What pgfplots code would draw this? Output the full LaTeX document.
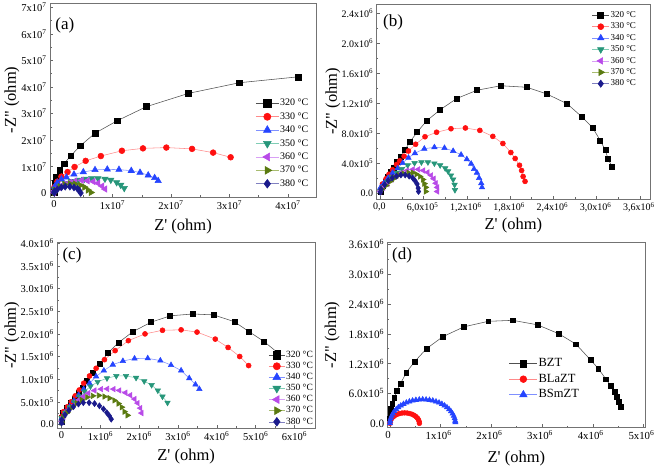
\documentclass[border=0pt]{standalone}
\usepackage{fontspec}
\setmainfont{Liberation Serif}[Ligatures=TeXOff]
\usepackage{pgfplots}
\pgfplotsset{compat=1.18}
\definecolor{m320}{HTML}{000000}\definecolor{l320}{HTML}{505050}
\definecolor{m330}{HTML}{FF1010}\definecolor{l330}{HTML}{FF8A8A}
\definecolor{m340}{HTML}{2545FF}\definecolor{l340}{HTML}{7F90FF}
\definecolor{m350}{HTML}{27967A}\definecolor{l350}{HTML}{80CDB5}
\definecolor{m360}{HTML}{B84AE8}\definecolor{l360}{HTML}{D9A0F5}
\definecolor{m370}{HTML}{5A7A10}\definecolor{l370}{HTML}{A8BC70}
\definecolor{m380}{HTML}{1A1A8C}\definecolor{l380}{HTML}{8080C0}
\pgfplotsset{
 panel/.style={scale only axis, anchor=north west,
   axis line style={black!55, line width=0.6pt},
   tick align=inside, tick pos=left, major tick length=3pt, minor tick length=1.6pt,
   every tick/.style={black!60, line width=0.5pt},
   minor x tick num=1, minor y tick num=1,
   legend cell align=left,
   label style={font=\fontsize{16.5}{17}\selectfont},
 },
 s320/.style={color=l320, line width=0.55pt, mark=square*, mark options={solid, draw=m320, fill=m320}},
 s330/.style={color=l330, line width=0.55pt, mark=*, mark options={solid, draw=m330, fill=m330}},
 s340/.style={color=l340, line width=0.55pt, mark=triangle*, mark options={solid, draw=m340, fill=m340, scale=1.25}},
 s350/.style={color=l350, line width=0.55pt, mark=triangle*, mark options={solid, draw=m350, fill=m350, rotate=180, scale=1.25}},
 s360/.style={color=l360, line width=0.55pt, mark=triangle*, mark options={solid, draw=m360, fill=m360, rotate=90, scale=1.25}},
 s370/.style={color=l370, line width=0.55pt, mark=triangle*, mark options={solid, draw=m370, fill=m370, rotate=-90, scale=1.25}},
 s380/.style={color=l380, line width=0.55pt, mark=diamond*, mark options={solid, draw=m380, fill=m380, scale=1.2}},
}
\begin{document}
\begin{tikzpicture}
\useasboundingbox (0,0) rectangle (655pt,-468pt);
% ---------------- (a)
\begin{axis}[panel, at={(50pt,-3pt)}, width=266pt, height=194pt,
  xmin=-0.07, xmax=4.48, ymin=-0.14, ymax=7.16,
  xtick={0,1,2,3,4}, xticklabels={0,1x10\textsuperscript{7},2x10\textsuperscript{7},3x10\textsuperscript{7},4x10\textsuperscript{7}},
  ytick={0,1,2,3,4,5,6,7}, yticklabels={0,1x10\textsuperscript{7},2x10\textsuperscript{7},3x10\textsuperscript{7},4x10\textsuperscript{7},5x10\textsuperscript{7},6x10\textsuperscript{7},7x10\textsuperscript{7}},
  tick label style={font=\fontsize{10.5}{12}\selectfont},
  xlabel={Z' (ohm)}, ylabel={-Z" (ohm)},
  xlabel style={at={(axis description cs:0.5,-0.152)}, anchor=center},
  ylabel style={at={(axis description cs:-0.143,0.5)}, anchor=center},
  every axis plot/.append style={mark size=2.9pt},
  legend image code/.code={\draw[mark repeat=2,mark phase=2,#1] plot coordinates {(0pt,0pt) (11.5pt,0pt) (23pt,0pt)};},
  legend image post style={mark size=3.6pt},
  legend style={at={(axis description cs:0.772,0.512)}, anchor=north west, draw=none, fill=none,
    font=\fontsize{10}{10}\selectfont, inner sep=0pt, row sep=2.4pt,
    nodes={inner sep=1pt, text height=7pt, text depth=2pt}},
]
\addplot[s320] coordinates {(0,0.03) (0.003,0.12) (0.01,0.376) (0.04,0.62) (0.097,0.876) (0.17,1.11) (0.285,1.41) (0.45,1.79) (0.70,2.26) (1.08,2.73) (1.58,3.26) (2.30,3.76) (3.17,4.16) (4.17,4.38)};
\addplot[s330] coordinates {(0,0.06) (0.005,0.23) (0.056,0.44) (0.125,0.63) (0.23,0.80) (0.35,0.99) (0.54,1.22) (0.80,1.40) (1.16,1.60) (1.52,1.69) (1.92,1.72) (2.36,1.67) (2.72,1.53) (3.02,1.355)};
\addplot[s340] coordinates {(0,0.08) (0.01,0.25) (0.056,0.40) (0.125,0.53) (0.21,0.60) (0.34,0.71) (0.50,0.80) (0.70,0.88) (0.91,0.90) (1.11,0.89) (1.32,0.85) (1.47,0.78) (1.61,0.68) (1.72,0.58) (1.78,0.47)};
\addplot[s350] coordinates {(0,0.05) (0.02,0.15) (0.10,0.27) (0.19,0.38) (0.30,0.45) (0.41,0.50) (0.52,0.54) (0.64,0.56) (0.75,0.56) (0.87,0.54) (0.97,0.50) (1.07,0.41) (1.14,0.31) (1.20,0.19)};
\addplot[s360] coordinates {(0,0.03) (0.01,0.10) (0.086,0.23) (0.17,0.34) (0.27,0.41) (0.36,0.46) (0.47,0.49) (0.57,0.47) (0.67,0.44) (0.75,0.38) (0.82,0.27) (0.87,0.16)};
\addplot[s370] coordinates {(0,0.03) (0.02,0.12) (0.10,0.25) (0.18,0.33) (0.27,0.36) (0.36,0.35) (0.45,0.30) (0.52,0.23) (0.58,0.12) (0.63,0.03)};
\addplot[s380] coordinates {(0,0.02) (0.005,0.07) (0.056,0.15) (0.125,0.22) (0.19,0.25) (0.27,0.25) (0.34,0.22) (0.40,0.17) (0.43,0.10) (0.455,0.01)};
\legend{320 °C,330 °C,340 °C,350 °C,360 °C,370 °C,380 °C}
\node[font=\fontsize{17}{17}\selectfont] at (rel axis cs:0.056,0.887) {(a)};
\end{axis}
% ---------------- (b)
\begin{axis}[panel, at={(376.7pt,-4pt)}, width=273.3pt, height=195pt,
  xmin=-0.05, xmax=3.74, ymin=-0.08, ymax=2.52,
  xtick={0,0.6,1.2,1.8,2.4,3.0,3.6}, xticklabels={{0,0},{6,0x10\textsuperscript{5}},{1,2x10\textsuperscript{6}},{1,8x10\textsuperscript{6}},{2,4x10\textsuperscript{6}},{3,0x10\textsuperscript{6}},{3,6x10\textsuperscript{6}}},
  ytick={0,0.4,0.8,1.2,1.6,2.0,2.4}, yticklabels={0.0,4.0x10\textsuperscript{5},8.0x10\textsuperscript{5},1.2x10\textsuperscript{6},1.6x10\textsuperscript{6},2.0x10\textsuperscript{6},2.4x10\textsuperscript{6}},
  tick label style={font=\fontsize{10}{11}\selectfont},
  xticklabel style={xshift=-1pt},
  xlabel={Z' (ohm)}, ylabel={-Z" (ohm)},
  xlabel style={at={(axis description cs:0.5,-0.135)}, anchor=center},
  ylabel style={at={(axis description cs:-0.16,0.5)}, anchor=center},
  every axis plot/.append style={mark size=2.5pt},
  legend image code/.code={\draw[mark repeat=2,mark phase=2,#1] plot coordinates {(0pt,0pt) (8.5pt,0pt) (17pt,0pt)};},
  legend image post style={mark size=3pt},
  legend style={at={(axis description cs:0.787,0.969)}, anchor=north west, draw=none, fill=none,
    font=\fontsize{9}{9}\selectfont, inner sep=0pt, row sep=1.3pt,
    nodes={inner sep=1pt, text height=6.3pt, text depth=1.8pt}},
]
\addplot[s320] coordinates {(0,0.02) (0.03,0.09) (0.07,0.15) (0.11,0.22) (0.15,0.28) (0.19,0.34) (0.23,0.41) (0.28,0.48) (0.34,0.57) (0.41,0.68) (0.51,0.81) (0.64,0.96) (0.83,1.11) (1.06,1.26) (1.34,1.37) (1.67,1.43) (2.03,1.41) (2.31,1.32) (2.59,1.19) (2.79,1.02) (2.947,0.867) (3.05,0.70) (3.12,0.57) (3.16,0.45) (3.21,0.355)};
\addplot[s330] coordinates {(0,0.04) (0.03,0.12) (0.08,0.19) (0.12,0.25) (0.17,0.31) (0.225,0.38) (0.27,0.43) (0.33,0.49) (0.39,0.56) (0.49,0.65) (0.62,0.75) (0.78,0.81) (0.98,0.857) (1.18,0.867) (1.38,0.835) (1.56,0.755) (1.70,0.66) (1.81,0.54) (1.87,0.46) (1.93,0.37) (1.96,0.30) (1.98,0.22) (2.007,0.155)};
\addplot[s340] coordinates {(0,0.07) (0.05,0.13) (0.11,0.20) (0.17,0.27) (0.24,0.33) (0.31,0.40) (0.39,0.47) (0.48,0.53) (0.61,0.59) (0.75,0.61) (0.89,0.60) (1.01,0.56) (1.12,0.51) (1.20,0.45) (1.26,0.39) (1.30,0.32) (1.34,0.27) (1.37,0.20) (1.40,0.13) (1.41,0.075)};
\addplot[s350] coordinates {(0,0.02) (0.045,0.075) (0.10,0.15) (0.16,0.21) (0.23,0.27) (0.30,0.32) (0.38,0.37) (0.475,0.40) (0.57,0.41) (0.66,0.41) (0.75,0.395) (0.83,0.37) (0.90,0.33) (0.94,0.29) (0.98,0.235) (1.01,0.18) (1.03,0.11) (1.035,0.04)};
\addplot[s360] coordinates {(0,0.02) (0.04,0.07) (0.10,0.12) (0.16,0.18) (0.225,0.23) (0.295,0.27) (0.37,0.30) (0.45,0.315) (0.525,0.315) (0.595,0.30) (0.655,0.275) (0.705,0.235) (0.74,0.19) (0.77,0.13) (0.79,0.075) (0.79,0.02)};
\addplot[s370] coordinates {(0.02,0.05) (0.08,0.10) (0.14,0.155) (0.20,0.20) (0.26,0.24) (0.32,0.26) (0.39,0.27) (0.45,0.27) (0.50,0.25) (0.55,0.22) (0.59,0.18) (0.61,0.125) (0.63,0.075) (0.63,0.02)};
\addplot[s380] coordinates {(0,0.01) (0.01,0.05) (0.06,0.11) (0.11,0.165) (0.165,0.20) (0.225,0.225) (0.285,0.24) (0.345,0.24) (0.40,0.225) (0.45,0.20) (0.48,0.165) (0.51,0.12) (0.525,0.065) (0.53,0.02)};
\legend{320 °C,330 °C,340 °C,350 °C,360 °C,370 °C,380 °C}
\node[font=\fontsize{17}{17}\selectfont] at (rel axis cs:0.06,0.908) {(b)};
\end{axis}
% ---------------- (c)
\begin{axis}[panel, at={(57.3pt,-242.5pt)}, width=257.7pt, height=185.5pt,
  xmin=-0.11, xmax=6.53, ymin=-0.08, ymax=4.02,
  xtick={0,1,2,3,4,5,6}, xticklabels={0,1x10\textsuperscript{6},2x10\textsuperscript{6},3x10\textsuperscript{6},4x10\textsuperscript{6},5x10\textsuperscript{6},6x10\textsuperscript{6}},
  ytick={0,0.5,1,1.5,2,2.5,3,3.5,4}, yticklabels={0.0,5.0x10\textsuperscript{5},1.0x10\textsuperscript{6},1.5x10\textsuperscript{6},2.0x10\textsuperscript{6},2.5x10\textsuperscript{6},3.0x10\textsuperscript{6},3.5x10\textsuperscript{6},4.0x10\textsuperscript{6}},
  tick label style={font=\fontsize{10.5}{12}\selectfont},
  xlabel={Z' (ohm)}, ylabel={-Z" (ohm)},
  xlabel style={at={(axis description cs:0.5,-0.156)}, anchor=center},
  ylabel style={at={(axis description cs:-0.176,0.5)}, anchor=center},
  every axis plot/.append style={mark size=2.5pt},
  legend image code/.code={\draw[mark repeat=2,mark phase=2,#1] plot coordinates {(0pt,0pt) (8pt,0pt) (16pt,0pt)};},
  legend image post style={mark size=3.6pt},
  legend style={at={(axis description cs:0.819,0.422)}, anchor=north west, draw=none, fill=none,
    font=\fontsize{9.5}{9.5}\selectfont, inner sep=0pt, row sep=0.6pt,
    nodes={inner sep=1pt, text height=6.5pt, text depth=2pt}},
]
\addplot[s320] coordinates {(0,0.05) (0.005,0.14) (0.03,0.26) (0.13,0.36) (0.23,0.47) (0.33,0.57) (0.44,0.69) (0.55,0.82) (0.66,0.96) (0.81,1.13) (0.98,1.33) (1.19,1.575) (1.47,1.81) (1.84,2.05) (2.31,2.26) (2.80,2.40) (3.38,2.44) (3.92,2.42) (4.45,2.27) (4.83,2.05) (5.22,1.83) (5.58,1.575)};
\addplot[s330] coordinates {(0,0.05) (0.005,0.17) (0.05,0.28) (0.15,0.39) (0.25,0.50) (0.35,0.63) (0.455,0.76) (0.57,0.91) (0.72,1.07) (0.89,1.24) (1.105,1.43) (1.38,1.63) (1.72,1.85) (2.15,2.00) (2.60,2.08) (3.08,2.09) (3.49,2.04) (3.96,1.885) (4.29,1.70) (4.59,1.50) (4.82,1.30)};
\addplot[s340] coordinates {(0,0.04) (0.005,0.14) (0.095,0.27) (0.21,0.39) (0.32,0.52) (0.44,0.65) (0.57,0.78) (0.72,0.91) (0.89,1.06) (1.09,1.19) (1.32,1.32) (1.58,1.40) (1.88,1.455) (2.22,1.46) (2.545,1.41) (2.82,1.31) (3.08,1.19) (3.29,1.02) (3.45,0.88) (3.55,0.78)};
\addplot[s350] coordinates {(0,0.04) (0.005,0.14) (0.095,0.26) (0.21,0.38) (0.33,0.50) (0.46,0.615) (0.59,0.73) (0.745,0.84) (0.93,0.94) (1.17,1.02) (1.41,1.07) (1.66,1.07) (1.92,1.03) (2.13,0.955) (2.32,0.87) (2.48,0.75) (2.60,0.615) (2.73,0.48)};
\addplot[s360] coordinates {(0,0.07) (0.05,0.17) (0.16,0.30) (0.29,0.41) (0.42,0.53) (0.55,0.615) (0.69,0.69) (0.85,0.75) (1.02,0.78) (1.175,0.785) (1.34,0.78) (1.49,0.75) (1.645,0.70) (1.77,0.645) (1.88,0.56) (1.96,0.47) (2.03,0.36) (2.06,0.25)};
\addplot[s370] coordinates {(0,0.04) (0.035,0.16) (0.145,0.26) (0.265,0.37) (0.39,0.47) (0.52,0.54) (0.66,0.60) (0.805,0.63) (0.96,0.64) (1.105,0.615) (1.235,0.58) (1.36,0.53) (1.465,0.46) (1.55,0.38) (1.62,0.28) (1.70,0.20)};
\addplot[s380] coordinates {(0,0.03) (0.005,0.10) (0.09,0.21) (0.19,0.31) (0.305,0.39) (0.435,0.45) (0.56,0.48) (0.71,0.48) (0.85,0.46) (0.975,0.41) (1.08,0.34) (1.165,0.26) (1.23,0.19) (1.28,0.115)};
\legend{320 °C,330 °C,340 °C,350 °C,360 °C,370 °C,380 °C}
\node[font=\fontsize{17}{17}\selectfont] at (rel axis cs:0.057,0.933) {(c)};
\end{axis}
% ---------------- (d)
\begin{axis}[panel, at={(387.7pt,-242.7pt)}, width=257.3pt, height=184.6pt,
  xmin=-0.045, xmax=5.03, ymin=-0.08, ymax=3.63,
  xtick={0,1,2,3,4,5}, xticklabels={0,1x10\textsuperscript{6},2x10\textsuperscript{6},3x10\textsuperscript{6},4x10\textsuperscript{6},5x10\textsuperscript{6}},
  ytick={0,0.6,1.2,1.8,2.4,3.0,3.6}, yticklabels={0.0,6.0x10\textsuperscript{5},1.2x10\textsuperscript{6},1.8x10\textsuperscript{6},2.4x10\textsuperscript{6},3.0x10\textsuperscript{6},3.6x10\textsuperscript{6}},
  yticklabel style={font=\fontsize{11.3}{12}\selectfont},
  xticklabel style={font=\fontsize{10.8}{12}\selectfont, xshift=-2pt},
  xlabel={Z' (ohm)}, ylabel={-Z" (ohm)},
  xlabel style={at={(axis description cs:0.5,-0.168)}, anchor=center},
  ylabel style={at={(axis description cs:-0.216,0.5)}, anchor=center},
  every axis plot/.append style={mark size=2.4pt},
  legend image code/.code={\draw[mark repeat=2,mark phase=2,#1] plot coordinates {(0pt,0pt) (14pt,0pt) (28pt,0pt)};},
  legend image post style={mark size=3.4pt},
  legend style={at={(axis description cs:0.471,0.381)}, anchor=north west, draw=none, fill=none,
    font=\fontsize{12.5}{12.5}\selectfont, inner sep=0pt, row sep=2.5pt,
    nodes={inner sep=1pt, text height=8.5pt, text depth=2.5pt}},
]
\addplot[s320] coordinates {(0,0.10) (0.005,0.20) (0.014,0.30) (0.045,0.40) (0.085,0.52) (0.14,0.655) (0.21,0.80) (0.32,1.02) (0.49,1.245) (0.72,1.50) (1.04,1.74) (1.46,1.94) (1.94,2.05) (2.42,2.07) (2.91,1.98) (3.33,1.80) (3.67,1.59) (3.96,1.27) (4.11,1.10) (4.26,0.885) (4.35,0.76) (4.43,0.64) (4.48,0.53) (4.52,0.43) (4.55,0.33)};
\addplot[s330] coordinates {(0,0) (0.0044,0.036) (0.0175,0.072) (0.0389,0.105) (0.0679,0.135) (0.1036,0.161) (0.145,0.182) (0.1908,0.197) (0.2396,0.207) (0.29,0.21) (0.340,0.207) (0.389,0.197) (0.435,0.182) (0.476,0.161) (0.512,0.135) (0.541,0.105) (0.5625,0.072) (0.5756,0.036) (0.58,0)};
\addplot[s340] coordinates {(0,0) (0.0035,0.050) (0.0141,0.100) (0.0316,0.148) (0.0558,0.195) (0.0864,0.240) (0.1232,0.282) (0.1657,0.321) (0.2134,0.357) (0.2659,0.388) (0.3225,0.416) (0.3827,0.438) (0.4457,0.457) (0.5109,0.469) (0.5776,0.477) (0.645,0.48) (0.7124,0.477) (0.7791,0.469) (0.8443,0.457) (0.9073,0.438) (0.9675,0.416) (1.0241,0.388) (1.0766,0.357) (1.1243,0.321) (1.1668,0.282) (1.2036,0.240) (1.2342,0.195) (1.2584,0.148) (1.2759,0.100) (1.2865,0.050) (1.29,0.02)};
\legend{BZT,BLaZT,BSmZT}
\node[font=\fontsize{17}{17}\selectfont] at (rel axis cs:0.056,0.933) {(d)};
\end{axis}
\end{tikzpicture}
\end{document}
